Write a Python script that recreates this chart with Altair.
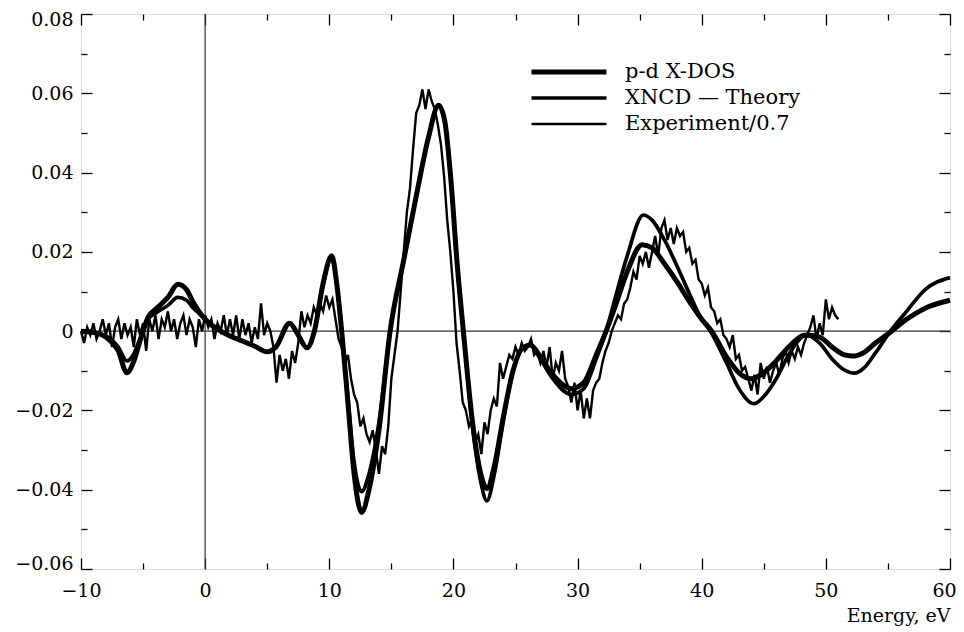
import altair as alt
import pandas as pd

# ---------------- data ----------------
SERIES = ["p-d X-DOS", "XNCD \u2014 Theory", "Experiment/0.7"]

dos_x = [-10, -9, -8, -7, -6.3, -5.8, -5.2, -4.6, -4, -3, -2.2, -1.5, -1, -0.5, 0, 1, 2, 3, 4, 5,
         5.7, 6.8, 7.5, 8.2, 8.8, 9.5, 10.2, 10.6, 11, 11.5, 12, 12.6, 13.2, 14, 14.9, 16, 17, 18,
         18.8, 19.3, 19.8, 20.3, 20.8, 21.5, 22.2, 22.7, 23.3, 24, 24.8, 25.5, 26.2, 27, 28, 29.5,
         30.5, 31.5, 32.3, 33, 34, 35.2, 36, 37, 38, 39, 40, 40.8, 42, 43, 44, 45, 46, 47, 48.4,
         49.5, 50.5, 51.5, 52.2, 53, 54, 55.3, 56.5, 58, 60]
dos_y = [0.0, -0.0003, -0.0015, -0.005, -0.0105, -0.008, -0.002, 0.0035, 0.0055, 0.0085, 0.0118,
         0.0105, 0.0075, 0.005, 0.003, 0.0005, -0.0012, -0.0025, -0.0038, -0.0052, -0.004, 0.002,
         -0.001, -0.0042, 0.0, 0.012, 0.019, 0.012, 0.0, -0.018, -0.036, -0.0457, -0.040, -0.025,
         0.0, 0.018, 0.034, 0.049, 0.057, 0.053, 0.038, 0.017, 0.0, -0.022, -0.036, -0.0397,
         -0.034, -0.022, -0.010, -0.0045, -0.0035, -0.0065, -0.011, -0.0145, -0.013, -0.006, 0.0,
         0.006, 0.015, 0.0218, 0.021, 0.017, 0.0125, 0.0075, 0.003, 0.0, -0.0065, -0.0105, -0.012,
         -0.0105, -0.0075, -0.004, -0.001, -0.0015, -0.004, -0.006, -0.0063, -0.0055, -0.003, 0.0,
         0.003, 0.0058, 0.0078]

th_x = [-10, -9, -8, -7, -6.3, -5.8, -5.2, -4.6, -4, -3, -2.2, -1.5, -1, -0.5, 0, 1, 2, 3, 4, 5,
        5.7, 6.8, 7.5, 8.2, 8.8, 9.5, 10.2, 10.6, 11, 11.5, 12, 12.6, 13.2, 14, 14.9, 16, 17, 18,
        18.8, 19.3, 19.8, 20.3, 20.8, 21.5, 22.2, 22.7, 23.3, 24, 24.8, 25.5, 26.2, 27, 28, 29.5,
        30.5, 31.5, 32.3, 33, 34, 35.3, 36, 37, 38, 39, 40, 40.7, 42, 43, 44.2, 45, 46, 47, 48.4,
        49.5, 50.5, 51.5, 52.3, 53, 54, 55.2, 56.5, 58, 60]
th_y = [0.0, -0.0003, -0.0012, -0.004, -0.0075, -0.006, -0.0015, 0.003, 0.0045, 0.0065, 0.0085,
        0.0078, 0.006, 0.0045, 0.003, 0.0005, -0.0012, -0.0025, -0.0038, -0.0052, -0.004, 0.002,
        -0.001, -0.0042, 0.0, 0.0118, 0.0185, 0.012, 0.0, -0.017, -0.033, -0.0405, -0.036, -0.023,
        0.0, 0.018, 0.034, 0.049, 0.057, 0.053, 0.038, 0.017, 0.0, -0.023, -0.038, -0.0428,
        -0.036, -0.023, -0.010, -0.0045, -0.0035, -0.007, -0.012, -0.016, -0.0145, -0.007, 0.0,
        0.008, 0.019, 0.0293, 0.028, 0.023, 0.0165, 0.0095, 0.003, 0.0, -0.008, -0.0145, -0.0183,
        -0.0165, -0.012, -0.006, -0.001, -0.003, -0.007, -0.0098, -0.0106, -0.0095, -0.0055, 0.0,
        0.005, 0.0105, 0.0135]

exp_start, exp_step = -10.0, 0.25
exp_y = [
    0.000, -0.003, 0.001, -0.001,    0.002, -0.002, 0.000, 0.003,
    -0.001, 0.002, -0.004, 0.001,    0.003, -0.002, 0.002, -0.001,
    0.001, -0.004, 0.003, -0.001,    0.002, -0.005, 0.003, 0.000,
    0.004, -0.002, 0.003, 0.001,     0.005, 0.000, 0.003, -0.002,
    0.002, 0.004, -0.001, 0.003,     0.001, -0.004, 0.003, 0.000,
    0.004, 0.001, 0.003, -0.002,     0.002, 0.000, 0.004, -0.001,
    0.003, -0.001, 0.004, -0.002,    0.003, -0.001, 0.002, -0.003,
    0.001, -0.002, 0.007, -0.001,    0.002, 0.000, -0.004, -0.013,
    -0.006, -0.010, -0.007, -0.012,  -0.005, -0.008, -0.003, 0.005,
    0.001, 0.004, 0.002, 0.006,      0.004, 0.007, 0.005, 0.009,
    0.006, 0.008, 0.003, -0.002,     -0.004, -0.008, -0.006, -0.012,
    -0.016, -0.018, -0.024, -0.022,  -0.026, -0.028, -0.025, -0.030,
    -0.036, -0.029, -0.031, -0.024,  -0.012, -0.006, 0.000, 0.010,
    0.020, 0.030, 0.036, 0.046,      0.055, 0.057, 0.061, 0.056,
    0.061, 0.058, 0.056, 0.052,      0.047, 0.039, 0.028, 0.020,
    0.010, -0.003, -0.010, -0.018,   -0.020, -0.024, -0.022, -0.028,
    -0.026, -0.031, -0.023, -0.026,  -0.020, -0.017, -0.019, -0.008,
    -0.012, -0.009, -0.006, -0.007,  -0.004, -0.006, -0.003, -0.005,
    -0.004, -0.002, -0.006, -0.005,  -0.008, -0.005, -0.009, -0.004,
    -0.012, -0.008, -0.010, -0.005,  -0.012, -0.014, -0.018, -0.013,
    -0.020, -0.015, -0.022, -0.017,  -0.022, -0.015, -0.013, -0.012,
    -0.008, -0.005, -0.003, 0.000,   0.002, 0.004, 0.003, 0.007,
    0.008, 0.011, 0.015, 0.013,      0.019, 0.017, 0.020, 0.016,
    0.020, 0.024, 0.019, 0.026,      0.028, 0.023, 0.026, 0.022,
    0.026, 0.024, 0.025, 0.020,      0.021, 0.017, 0.018, 0.013,
    0.012, 0.009, 0.011, 0.006,      0.005, 0.002, 0.003, -0.001,
    -0.002, -0.004, -0.001, -0.007,  -0.006, -0.010, -0.009, -0.012,
    -0.015, -0.011, -0.016, -0.008,  -0.012, -0.009, -0.013, -0.010,
    -0.008, -0.011, -0.007, -0.005,  -0.008, -0.005, -0.007, -0.004,
    -0.006, -0.003, -0.001, 0.001,   0.004, -0.002, 0.002, -0.001,
    0.008, 0.003, 0.006, 0.004,      0.003,
]
exp_x = [exp_start + exp_step * i for i in range(len(exp_y))]

x_major = [-10, 0, 10, 20, 30, 40, 50, 60]
x_minor = [-5, 5, 15, 25, 35, 45, 55]
y_major = [-0.06, -0.04, -0.02, 0, 0.02, 0.04, 0.06, 0.08]
y_minor = [-0.05, -0.03, -0.01, 0.01, 0.03, 0.05, 0.07]

# ---------------- tables ----------------
smooth = pd.concat([
    pd.DataFrame({"series": SERIES[0], "x": dos_x, "y": dos_y}),
    pd.DataFrame({"series": SERIES[1], "x": th_x, "y": th_y}),
])
exper = pd.DataFrame({"series": SERIES[2], "x": exp_x, "y": exp_y})
zero = pd.DataFrame({"v": [0]})

FONT = "DejaVu Serif"
xs = alt.Scale(domain=[-10, 60], nice=False, zero=False)
ys = alt.Scale(domain=[-0.06, 0.08], nice=False, zero=False)
sw = alt.Scale(domain=SERIES, range=[5, 2.4, 1.0])


def tick_axis(orient, values, size):
    return alt.Axis(orient=orient, values=values, tickSize=size, offset=-size, labels=False,
                    domain=False, grid=False, title=None, tickColor="black", tickWidth=1.3)


label_x = alt.Axis(orient="bottom", values=x_major, format="d", ticks=False, domain=False,
                   grid=False, labelFont=FONT, labelFontSize=19, labelColor="black",
                   labelPadding=12, labelFlush=False,
                   labelOffset={"condition": {"test": "datum.value >= 60", "value": -6},
                                "value": 0},
                   title="Energy, eV", titleFont=FONT,
                   titleFontSize=19, titleFontWeight="normal", titleColor="black",
                   titleAnchor="end", titlePadding=6)
label_y = alt.Axis(orient="left", values=y_major, ticks=False, domain=False, grid=False,
                   labelFont=FONT, labelFontSize=19, labelColor="black", labelPadding=8,
                   labelFlush=True, labelFlushOffset=4,
                   labelExpr="datum.value == 0 ? '0' : format(datum.value, '.2f')", title=None)

legend = alt.Legend(orient="none", legendX=448, legendY=45, title=None, symbolType="stroke",
                    symbolSize=5625, symbolStrokeColor="black", labelFont=FONT,
                    labelFontSize=21, labelColor="black", labelOffset=16, labelLimit=400,
                    clipHeight=26, rowPadding=0, padding=0, symbolFillColor="black")

smooth_layer = alt.Chart(smooth).mark_line(interpolate="monotone", color="black").encode(
    x=alt.X("x:Q", scale=xs, axis=label_x),
    y=alt.Y("y:Q", scale=ys, axis=label_y),
    strokeWidth=alt.StrokeWidth("series:N", scale=sw, legend=legend),
    detail="series:N",
)
exp_layer = alt.Chart(exper).mark_line(color="black").encode(
    x=alt.X("x:Q", scale=xs, axis=None),
    y=alt.Y("y:Q", scale=ys, axis=None),
    strokeWidth=alt.StrokeWidth("series:N", scale=sw, legend=legend),
)

vline = alt.Chart(zero).mark_rule(color="#333", strokeWidth=1.2).encode(
    x=alt.X("v:Q", scale=xs, axis=None))
hline = alt.Chart(zero).mark_rule(color="#333", strokeWidth=1.2).encode(
    y=alt.Y("v:Q", scale=ys, axis=None))


def ticks_layer(xo, xv, yo, yv, size):
    return alt.Chart(exper).mark_point(opacity=0).encode(
        x=alt.X("x:Q", scale=xs, axis=tick_axis(xo, xv, size)),
        y=alt.Y("y:Q", scale=ys, axis=tick_axis(yo, yv, size)),
    )


chart = alt.layer(
    vline, hline,
    smooth_layer, exp_layer,
    ticks_layer("bottom", x_major, "left", y_major, 11),
    ticks_layer("bottom", x_minor, "left", y_minor, 6),
    ticks_layer("top", x_major, "right", y_major, 11),
    ticks_layer("top", x_minor, "right", y_minor, 6),
).resolve_axis(x="independent", y="independent").properties(
    width=869, height=555,
    autosize=alt.AutoSizeParams(type="none"),
    padding={"left": 73, "top": 6, "right": 6, "bottom": 60},
).configure_view(stroke="black", strokeWidth=1.4).configure(background="white")

chart.save("out.html", embed_options={"renderer": "svg", "actions": False})
